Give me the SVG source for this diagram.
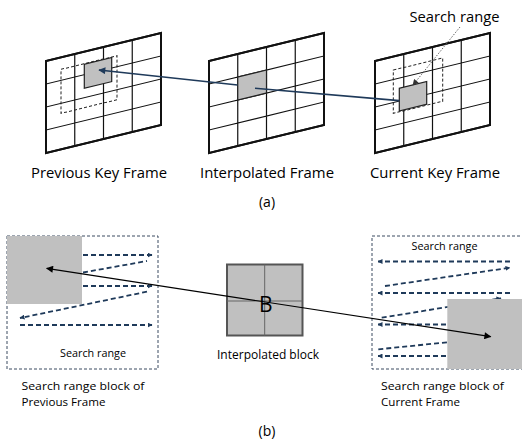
<svg xmlns="http://www.w3.org/2000/svg" width="522" height="439" viewBox="0 0 522 439">
<defs>
<style>
text{font-family:"Open Sans","Noto Sans","DejaVu Sans",sans-serif;fill:#000}
.outline{fill:#fff;stroke:#111;stroke-width:2}
.grid{stroke:#111;stroke-width:1.2;fill:none}
.blk{fill:#c0c0c0;stroke:#222;stroke-width:1.2}
.sr{fill:none;stroke:#222;stroke-width:1;stroke-dasharray:3,2}
.mv{stroke:#1f3a5a;stroke-width:1.6;fill:none}
.da{stroke:#1f3a5a;stroke-width:1.8;fill:none;stroke-dasharray:5,3}
.box{fill:none;stroke:#3a4a60;stroke-width:1;stroke-dasharray:3,2}
.gray{fill:#c0c0c0}
</style>
<marker id="nav" viewBox="0 0 10 10" refX="9" refY="5" markerWidth="5" markerHeight="5" orient="auto-start-reverse" markerUnits="userSpaceOnUse"><path d="M0,0L10,5L0,10z" fill="#1f3a5a"/></marker>
<marker id="nav2" viewBox="0 0 10 10" refX="9" refY="5" markerWidth="8" markerHeight="7" orient="auto-start-reverse" markerUnits="userSpaceOnUse"><path d="M0,0L10,5L0,10z" fill="#1f3a5a"/></marker>
<marker id="blk" viewBox="0 0 10 10" refX="9" refY="5" markerWidth="9" markerHeight="7" orient="auto-start-reverse" markerUnits="userSpaceOnUse"><path d="M0,0L10,5L0,10z" fill="#000"/></marker>
<marker id="gr" viewBox="0 0 10 10" refX="9" refY="5" markerWidth="7" markerHeight="6" orient="auto" markerUnits="userSpaceOnUse"><path d="M0,0L10,5L0,10z" fill="#333"/></marker>
<g id="gridlines">
<rect class="outline" x="0" y="0" width="115" height="92"/>
<path class="grid" d="M28.75,0V92M57.5,0V92M86.25,0V92M0,23H115M0,46H115M0,69H115"/>
<rect x="0" y="0" width="115" height="92" fill="none" stroke="#111" stroke-width="2"/>
</g>
</defs>
<rect width="522" height="439" fill="#fff"/>

<!-- (a) frames -->
<g id="prev-key-frame" transform="translate(46,61) skewY(-13.69)">
<use href="#gridlines"/>
<rect class="sr" x="15" y="12" width="56" height="44"/>
<rect class="blk" x="38.3" y="12.6" width="27.4" height="24"/>
</g>
<g id="interp-frame" transform="translate(209,61) skewY(-13.69)">
<use href="#gridlines"/>
<rect class="blk" x="28.75" y="23" width="28.75" height="23"/>
</g>
<g id="curr-key-frame" transform="translate(375,61) skewY(-13.69)">
<use href="#gridlines"/>
<rect class="sr" x="18.3" y="13.5" width="49.4" height="43.3"/>
<rect class="blk" x="24.3" y="33.2" width="27.4" height="22.7"/>
</g>

<g id="connectors-a">
<line class="mv" x1="237.5" y1="85" x2="99" y2="70" marker-end="url(#nav2)"/>
<line class="mv" x1="255" y1="88.3" x2="399.3" y2="100.6"/>
<line x1="460" y1="27" x2="413" y2="85" stroke="#666" stroke-width="1" stroke-dasharray="1.5,1.5" marker-end="url(#gr)"/>
</g>

<g id="labels-a">
<text x="454.5" y="22" font-size="14.5" text-anchor="middle" textLength="90" lengthAdjust="spacingAndGlyphs">Search range</text>
<text x="99" y="178" font-size="15" text-anchor="middle" textLength="136" lengthAdjust="spacingAndGlyphs">Previous Key Frame</text>
<text x="267" y="178" font-size="15" text-anchor="middle" textLength="134" lengthAdjust="spacingAndGlyphs">Interpolated Frame</text>
<text x="435" y="178" font-size="15" text-anchor="middle" textLength="130" lengthAdjust="spacingAndGlyphs">Current Key Frame</text>
<text x="267" y="207" font-size="14" text-anchor="middle">(a)</text>
</g>

<!-- (b) -->
<g id="prev-search-block">
<rect class="box" x="7" y="236" width="151" height="133"/>
<rect class="gray" x="7" y="236" width="75" height="68"/>
<line class="da" x1="83" y1="255" x2="152" y2="255" marker-end="url(#nav)"/>
<line class="da" x1="83" y1="272.5" x2="147" y2="261"/>
<line class="da" x1="83" y1="286" x2="152" y2="286" marker-end="url(#nav)"/>
<line class="da" x1="147" y1="291.7" x2="20" y2="318" marker-end="url(#nav)"/>
<line class="da" x1="20" y1="325" x2="152" y2="325" marker-end="url(#nav)"/>
<text x="93" y="357" font-size="11.5" text-anchor="middle" textLength="66" lengthAdjust="spacingAndGlyphs">Search range</text>
</g>

<g id="interp-block">
<rect x="227" y="264.5" width="75.5" height="71" fill="#c0c0c0" stroke="#555" stroke-width="2"/>
<path d="M264.7,264.5V335.5M227,301H302.5" stroke="#666" stroke-width="1"/>
<text x="265.7" y="312" font-size="21" text-anchor="middle" fill="#222">B</text>
<text x="268" y="358.5" font-size="12.5" text-anchor="middle" textLength="102" lengthAdjust="spacingAndGlyphs">Interpolated block</text>
</g>

<g id="curr-search-block">
<rect class="box" x="372" y="236" width="152" height="133"/>
<line class="da" x1="510" y1="261.5" x2="378" y2="261.5" marker-end="url(#nav)"/>
<line class="da" x1="385" y1="286" x2="510" y2="267.7" marker-end="url(#nav)"/>
<line class="da" x1="510" y1="293" x2="378" y2="293" marker-end="url(#nav)"/>
<line class="da" x1="381.7" y1="317.7" x2="501" y2="298.3" marker-end="url(#nav)"/>
<line class="da" x1="510" y1="324.5" x2="378" y2="324.5" marker-end="url(#nav)"/>
<line class="da" x1="378.3" y1="349.3" x2="470" y2="340"/>
<line class="da" x1="510" y1="356" x2="378" y2="356" marker-end="url(#nav)"/>
<rect class="gray" x="447.3" y="299" width="75" height="70"/>
<text x="444.5" y="250" font-size="11.5" text-anchor="middle" textLength="66" lengthAdjust="spacingAndGlyphs">Search range</text>
</g>

<g id="connectors-b">
<line x1="46.7" y1="268.3" x2="490.7" y2="336.7" stroke="#000" stroke-width="1.2" marker-start="url(#blk)" marker-end="url(#blk)"/>
</g>

<g id="labels-b">
<text x="21.5" y="389.5" font-size="11.5" textLength="123" lengthAdjust="spacingAndGlyphs">Search range block of</text>
<text x="21.5" y="405.5" font-size="11.5" textLength="84" lengthAdjust="spacingAndGlyphs">Previous Frame</text>
<text x="381" y="389.5" font-size="11.5" textLength="123" lengthAdjust="spacingAndGlyphs">Search range block of</text>
<text x="381" y="405.5" font-size="11.5" textLength="79" lengthAdjust="spacingAndGlyphs">Current Frame</text>
<text x="267" y="436" font-size="14" text-anchor="middle">(b)</text>
</g>
</svg>
